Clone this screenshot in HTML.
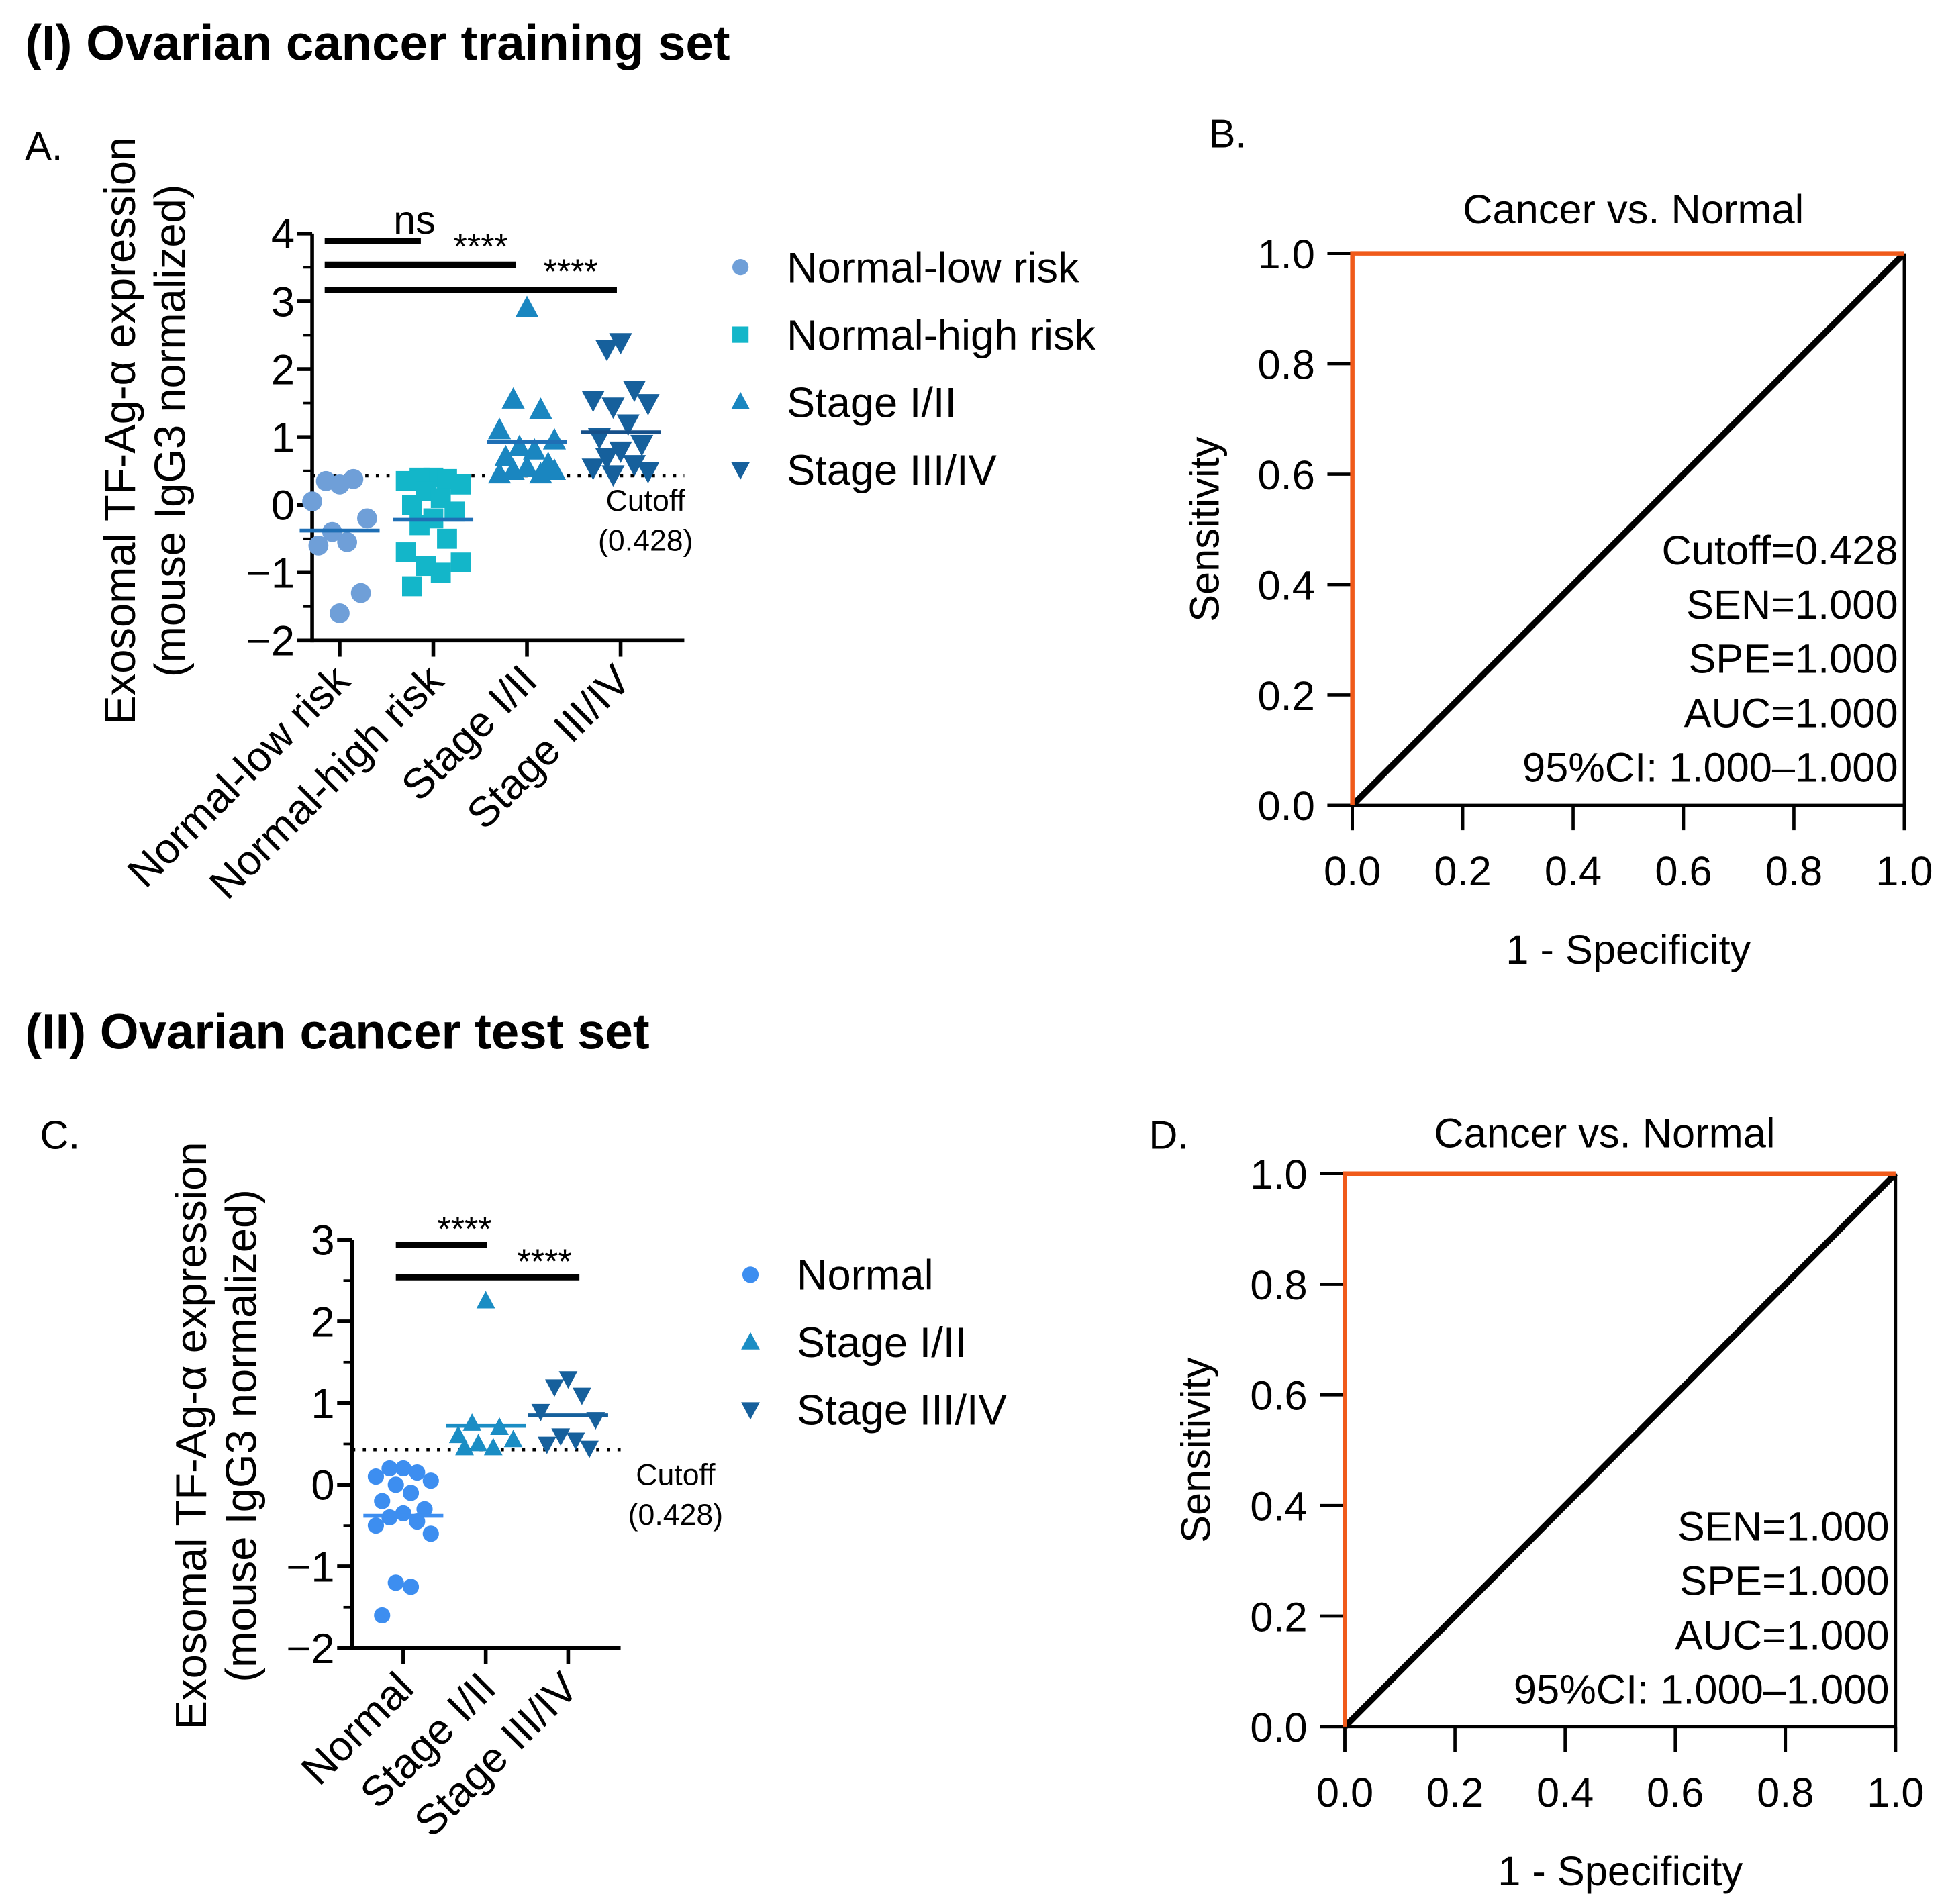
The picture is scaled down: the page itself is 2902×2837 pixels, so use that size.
<!DOCTYPE html>
<html><head><meta charset="utf-8"><style>
html,body{margin:0;padding:0;background:#fff;}
svg{display:block;font-family:"Liberation Sans",Arial,sans-serif;}
</style></head><body>
<svg id="fig" width="2902" height="2837" viewBox="0 0 1560 1525" preserveAspectRatio="none" xmlns="http://www.w3.org/2000/svg">
<text x="20" y="48" font-size="40" font-weight="bold">(I) Ovarian cancer training set</text>
<text x="20" y="128" font-size="32">A.</text>
<text x="968" y="118" font-size="32">B.</text>
<text x="20" y="840" font-size="40" font-weight="bold">(II) Ovarian cancer test set</text>
<text x="32" y="920" font-size="32">C.</text>
<text x="920" y="920" font-size="32">D.</text>
<g id="gA"></g>
<g id="gB"></g>
<g id="gC"></g>
<g id="gD"></g>
</svg>
<script>
// Panel A data
const catsA = ["Normal-low risk","Normal-high risk","Stage I/II","Stage III/IV"];
const lowRisk = [0.3,0.35,0.38,0.05,-0.2,-0.4,-0.55,-0.6,-1.3,-1.6];
const highRisk = [0.4,0.4,0.38,0.35,0.3,0.2,0.1,0,-0.1,-0.2,-0.3,-0.5,-0.7,-0.85,-0.9,-1.0,-1.2];
const stage12A = [2.9,1.55,1.4,1.1,0.95,0.85,0.8,0.7,0.6,0.55,0.5,0.45,0.45,0.5];
const stage34A = [2.4,2.3,1.7,1.55,1.5,1.45,1.2,1.0,0.9,0.8,0.7,0.6,0.55,0.5,0.45];
const meansA = [-0.38,-0.22,0.93,1.07];
const ticksA = [-2,-1,0,1,2,3,4];
// Panel C data
const catsC = ["Normal","Stage I/II","Stage III/IV"];
const normalC = [0.2,0.2,0.15,0.1,0.05,0,-0.1,-0.2,-0.3,-0.35,-0.4,-0.45,-0.5,-0.6,-1.2,-1.25,-1.6];
const stage12C = [2.25,0.75,0.7,0.6,0.55,0.5,0.45,0.45];
const stage34C = [1.3,1.2,1.1,0.9,0.8,0.6,0.55,0.5,0.45];
const meansC = [-0.38,0.72,0.85];
const ticksC = [-2,-1,0,1,2,3];
const cutoff = 0.428;
// ROC data
const rocX = [0,0,1];
const rocY = [0,1,1];
const refX = [0,1];
const refY = [0,1];
const rocTicks = [0,0.2,0.4,0.6,0.8,1.0];
const statsB = ["Cutoff=0.428","SEN=1.000","SPE=1.000","AUC=1.000","95%CI: 1.000\u20131.000"];
const statsD = ["SEN=1.000","SPE=1.000","AUC=1.000","95%CI: 1.000\u20131.000"];

const NS="http://www.w3.org/2000/svg";
function mk(parent,tag,attrs,txt){const e=document.createElementNS(NS,tag);for(const k in attrs)e.setAttribute(k,attrs[k]);if(txt!==undefined)e.textContent=txt;parent.appendChild(e);return e;}

function marker(g,type,cx,cy,col,s){
  let e;
  if(type==="circle"){e=mk(g,"circle",{cx:cx,cy:cy,r:s,fill:col});}
  else if(type==="square"){e=mk(g,"rect",{x:cx-s,y:cy-s,width:2*s,height:2*s,fill:col});}
  else if(type==="up"){e=mk(g,"polygon",{points:`${cx},${cy-s*1.25} ${cx-s*1.15},${cy+s*0.9} ${cx+s*1.15},${cy+s*0.9}`,fill:col});}
  else {e=mk(g,"polygon",{points:`${cx},${cy+s*1.25} ${cx-s*1.15},${cy-s*0.9} ${cx+s*1.15},${cy-s*0.9}`,fill:col});}
  
  
}

function scatter(g,o){
  const y=v=>o.y0+(v-o.ymin)/(o.ymax-o.ymin)*(o.y1-o.y0);
  const x=i=>o.xs[i];
  let ax=mk(g,"line",{x1:o.axX,y1:y(o.ymax),x2:o.axX,y2:y(o.ymin)+1.5,stroke:"#000","stroke-width":3});
  
  let bx=mk(g,"line",{x1:o.axX,y1:y(o.ymin),x2:o.axEnd,y2:y(o.ymin),stroke:"#000","stroke-width":3});
  
  o.ticks.forEach(t=>{
    mk(g,"line",{x1:o.axX-12,y1:y(t),x2:o.axX,y2:y(t),stroke:"#000","stroke-width":3});
    if(t<o.ymax) mk(g,"line",{x1:o.axX-7,y1:y(t+0.5),x2:o.axX,y2:y(t+0.5),stroke:"#000","stroke-width":2});
    const lab=mk(g,"text",{x:o.axX-14,y:y(t)+12,"font-size":34,"text-anchor":"end"},t<0?"\u2212"+(-t):String(t));
    
  });
  o.cats.forEach((c,i)=>{
    mk(g,"line",{x1:x(i),y1:y(o.ymin),x2:x(i),y2:y(o.ymin)+13,stroke:"#000","stroke-width":3});
    const tx=x(i)+10, ty=y(o.ymin)+34;
    const lab=mk(g,"text",{x:tx,y:ty,"font-size":34,"text-anchor":"end",transform:`rotate(-45 ${tx} ${ty})`},c);
    
  });
  const cl=mk(g,"line",{x1:o.axX,y1:y(cutoff),x2:o.axEnd,y2:y(cutoff),stroke:"#000","stroke-width":2.5,"stroke-dasharray":"2.5,6"});
  
  let t1=mk(g,"text",{x:o.cutTx,y:y(cutoff)+28,"font-size":24,"text-anchor":"middle"},"Cutoff");
  
  let t2=mk(g,"text",{x:o.cutTx,y:y(cutoff)+60,"font-size":24,"text-anchor":"middle"},"(0.428)");
  
  const offs=[0,-11,11,-22,22,-6,6,-17,17];
  o.series.forEach((s,i)=>{
    s.forEach((v,j)=>marker(g,o.types[i],x(i)+offs[j%offs.length],y(v),o.cols[i],o.ms));
    const m=mk(g,"line",{x1:x(i)-32,y1:y(o.means[i]),x2:x(i)+32,y2:y(o.means[i]),stroke:o.meanCols[i],"stroke-width":3});
    
  });
  o.sig.forEach(sb=>{
    const l=mk(g,"line",{x1:sb[0],y1:sb[2],x2:sb[1],y2:sb[2],stroke:"#000","stroke-width":5});
    
    const t=mk(g,"text",{x:sb[3],y:sb[4],"font-size":sb[5]==="ns"?32:28,"text-anchor":"middle"},sb[5]);
    
  });
  const yt=mk(g,"text",{x:0,y:0,"font-size":35,"text-anchor":"middle",transform:`translate(${o.ytX},${o.ytY}) rotate(-90)`},"Exosomal TF-Ag-\u03B1 expression");
  
  const yt2=mk(g,"text",{x:0,y:0,"font-size":35,"text-anchor":"middle",transform:`translate(${o.ytX+40},${o.ytY}) rotate(-90)`},"(mouse IgG3 normalized)");
  
  o.cats.forEach((c,i)=>{
    const ly=o.legY+i*o.legStep;
    const lg=mk(g,"g",{});
    
    marker(lg,o.types[i],o.legX,ly,o.cols[i],6.5);
    mk(lg,"text",{x:o.legX+37,y:ly+12,"font-size":34},c);
  });
}

scatter(document.getElementById("gA"),{
  cats:catsA,series:[lowRisk,highRisk,stage12A,stage34A],means:meansA,ticks:ticksA,
  ymin:-2,ymax:4,y0:513,y1:187,axX:250,axEnd:548,xs:[272,347,422,497],ms:8,
  types:["circle","square","up","down"],cols:["#6f9fd8","#13b6c9","#1a86c0","#16609c"],meanCols:["#1f6fb5","#1f6fb5","#1f6fb5","#16508a"],
  cutTx:517,sig:[[260,337,193,332,187,"ns"],[260,413,212,385,207,"****"],[260,494,232,457,227,"****"]],
  ytX:108,ytY:345,legX:593,legY:214,legStep:54
});
scatter(document.getElementById("gC"),{
  cats:catsC,series:[normalC,stage12C,stage34C],means:meansC,ticks:ticksC,
  ymin:-2,ymax:3,y0:1320,y1:993,axX:282,axEnd:497,xs:[323,389,455],ms:6.5,
  types:["circle","up","down"],cols:["#3d8ef0","#1a8dc4","#16609c"],meanCols:["#3d8ef0","#1a8dc4","#16609c"],
  cutTx:541,sig:[[317,390,997,372,994,"****"],[317,464,1023,436,1020,"****"]],
  ytX:165,ytY:1150,legX:601,legY:1021,legStep:54
});

function roc(g,o){
  const sx=v=>o.x0+v*(o.x1-o.x0), sy=v=>o.y0-v*(o.y0-o.y1);
  const t=mk(g,"text",{x:o.titleX,y:o.titleY,"font-size":33,"text-anchor":"middle"},"Cancer vs. Normal");
  
  const ya=mk(g,"line",{x1:o.x0,y1:sy(1),x2:o.x0,y2:sy(0)+20,stroke:"#000","stroke-width":2.5});
  
  const xa=mk(g,"line",{x1:o.x0-20,y1:sy(0),x2:sx(1),y2:sy(0),stroke:"#000","stroke-width":2.5});
  
  const rb=mk(g,"line",{x1:sx(1),y1:sy(1),x2:sx(1),y2:sy(0)+20,stroke:"#000","stroke-width":2.5});
  
  rocTicks.forEach(v=>{
    mk(g,"line",{x1:o.x0-20,y1:sy(v),x2:o.x0,y2:sy(v),stroke:"#000","stroke-width":2.5});
    mk(g,"line",{x1:sx(v),y1:sy(0),x2:sx(v),y2:sy(0)+20,stroke:"#000","stroke-width":2.5});
    const yl=mk(g,"text",{x:o.x0-30,y:sy(v)+12,"font-size":33,"text-anchor":"end"},v.toFixed(1));
    
    const xl=mk(g,"text",{x:sx(v),y:sy(0)+64,"font-size":33,"text-anchor":"middle"},v.toFixed(1));
    
  });
  const ref=mk(g,"polyline",{points:refX.map((v,i)=>sx(v)+","+sy(refY[i])).join(" "),fill:"none",stroke:"#000","stroke-width":5});
  
  const rc=mk(g,"polyline",{points:rocX.map((v,i)=>sx(v)+","+sy(rocY[i])).join(" "),fill:"none",stroke:"#f05a1a","stroke-width":3.5});
  
  o.stats.forEach((s,i)=>{
    const st=mk(g,"text",{x:sx(1)-5,y:o.statY+i*43.5+12,"font-size":33,"text-anchor":"end"},s);
    
  });
  const xt=mk(g,"text",{x:(o.x0+o.x1)/2,y:sy(0)+127,"font-size":33,"text-anchor":"middle"},"1 - Specificity");
  
  const yt=mk(g,"text",{x:0,y:0,"font-size":33,"text-anchor":"middle",transform:`translate(${o.ytX},${(o.y0+o.y1)/2}) rotate(-90)`},"Sensitivity");
  
}
roc(document.getElementById("gB"),{x0:1083,x1:1525,y0:645,y1:203,titleX:1308,titleY:179,stats:statsB,statY:440,ytX:976});
roc(document.getElementById("gD"),{x0:1077,x1:1518,y0:1383,y1:940,titleX:1285,titleY:919,stats:statsD,statY:1222,ytX:969});
</script>
</body></html>
